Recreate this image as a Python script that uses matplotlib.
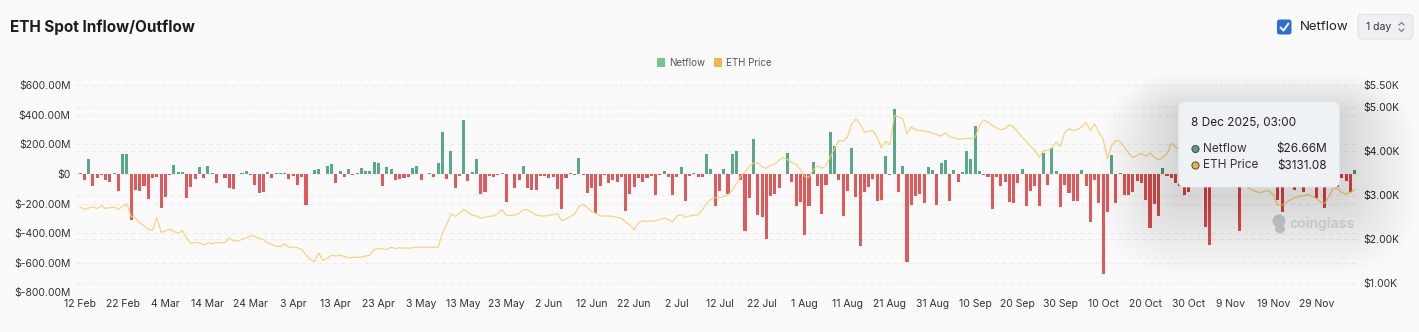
import numpy as np
import pandas as pd
import matplotlib.pyplot as plt
from matplotlib.patches import FancyBboxPatch, Circle, Rectangle, Ellipse
from matplotlib.transforms import Affine2D, blended_transform_factory

plt.rcParams['font.family'] = ['Inter', 'DejaVu Sans']

# daily netflow (million USD) and ETH price (thousand USD), starting 12 Feb 2025
start_date = '2025-02-12'
netflow = [
    10, -40, 103, -79, -25, -5, -43, -56, 5, -112,
    133, 135, -310, -110, -117, -81, -171, -29, -18, -227,
    -153, -9, 58, 13, 13, -160, -88, -36, 45, -25,
    54, 5, -63, -3, -29, -97, -99, -3, 7, 20,
    -9, -74, -130, -119, 11, -25, 4, 7, 7, -36,
    -13, -74, -22, -207, -2, 27, 36, 2, 54, 70,
    -63, 20, -18, 34, -9, 4, 41, 18, 22, 79,
    74, -83, 50, 31, -43, -34, -29, -22, 43, 52,
    -38, -2, 7, -22, 72, 281, -34, 157, -94, -13,
    364, -50, 11, 103, -137, -121, -13, -18, -9, 7,
    -191, -2, -94, -40, 52, -94, -106, -106, -13, -13,
    -27, -22, -101, -239, -29, 7, -9, 110, -9, -130,
    -97, -261, -79, -9, -63, -40, -52, -22, -252, -137,
    -86, -27, -54, -29, -13, -142, -9, 22, -22, -140,
    -22, 47, -182, -13, 7, -18, -18, 137, 36, -218,
    -112, 31, -135, 133, 157, -40, -385, -160, 234, -277,
    -288, -441, -146, -137, -97, 2, 142, -56, -218, -191,
    -410, -218, 81, -81, -270, -76, 286, 191, -38, -284,
    -117, 175, -157, -486, -121, -88, -36, -180, -173, 124,
    -9, 436, -119, 52, -592, -209, -150, -135, -193, 45,
    27, -211, 74, 92, -180, 27, -52, 11, 153, 99,
    324, 18, -4, -18, -239, -18, -81, -52, -189, -193,
    -63, 31, -214, -112, -81, -218, 142, -76, 173, 20,
    -220, -76, -126, -184, -182, 25, -81, -322, -40, -193,
    -677, -254, 128, -198, 4, -144, -144, -121, -50, -63,
    -175, -362, -205, -281, 43, -13, -29, -63, -79, -142,
    -119, -45, -70, -30, -360, -479, -60, -35, -80, 15,
    -50, -65, -385, -40, -75, 20, -55, -30, -70, -45,
    -60, -175, -259, -40, -65, -108, -90, -119, -50, -35,
    -164, -60, -232, -20, -40, -85, -25, -45, -119, 26.66,
]
eth_price = [
    2.73, 2.68, 2.71, 2.74, 2.70, 2.76, 2.70, 2.72, 2.73, 2.68,
    2.76, 2.80, 2.52, 2.48, 2.38, 2.31, 2.23, 2.20, 2.50, 2.16,
    2.19, 2.23, 2.18, 2.14, 2.20, 2.03, 1.90, 1.93, 1.92, 1.87,
    1.92, 1.90, 1.93, 1.92, 1.93, 2.03, 1.97, 1.96, 2.00, 2.03,
    2.08, 2.07, 2.03, 1.99, 1.92, 1.88, 1.84, 1.84, 1.90, 1.82,
    1.82, 1.81, 1.77, 1.64, 1.55, 1.49, 1.69, 1.52, 1.57, 1.64,
    1.62, 1.64, 1.61, 1.58, 1.59, 1.59, 1.60, 1.62, 1.64, 1.77,
    1.79, 1.78, 1.77, 1.82, 1.79, 1.81, 1.80, 1.80, 1.81, 1.82,
    1.82, 1.82, 1.82, 1.82, 1.82, 2.14, 2.33, 2.58, 2.52, 2.59,
    2.68, 2.61, 2.55, 2.53, 2.48, 2.50, 2.52, 2.53, 2.59, 2.67,
    2.55, 2.54, 2.55, 2.59, 2.67, 2.67, 2.61, 2.55, 2.53, 2.53,
    2.55, 2.56, 2.58, 2.42, 2.46, 2.52, 2.57, 2.74, 2.80, 2.72,
    2.63, 2.59, 2.53, 2.53, 2.53, 2.52, 2.50, 2.48, 2.39, 2.32,
    2.22, 2.37, 2.42, 2.41, 2.41, 2.42, 2.45, 2.48, 2.45, 2.39,
    2.53, 2.56, 2.50, 2.53, 2.55, 2.56, 2.67, 2.82, 2.91, 2.95,
    2.95, 2.97, 3.01, 3.11, 3.27, 3.44, 3.53, 3.65, 3.74, 3.74,
    3.65, 3.61, 3.68, 3.71, 3.80, 3.85, 3.81, 3.74, 3.70, 3.58,
    3.43, 3.41, 3.58, 3.67, 3.61, 3.68, 3.87, 4.06, 4.25, 4.23,
    4.32, 4.61, 4.73, 4.62, 4.43, 4.45, 4.47, 4.32, 4.07, 4.23,
    4.14, 4.81, 4.78, 4.74, 4.40, 4.55, 4.49, 4.47, 4.46, 4.44,
    4.41, 4.38, 4.34, 4.42, 4.32, 4.31, 4.27, 4.28, 4.29, 4.29,
    4.32, 4.58, 4.71, 4.66, 4.58, 4.53, 4.49, 4.51, 4.60, 4.55,
    4.43, 4.32, 4.23, 4.11, 4.02, 3.86, 4.01, 4.02, 4.08, 4.21,
    4.11, 4.43, 4.51, 4.47, 4.49, 4.55, 4.66, 4.47, 4.62, 4.43,
    4.28, 3.84, 4.13, 4.25, 4.22, 4.10, 3.95, 3.86, 3.91, 3.95,
    3.89, 3.96, 3.86, 3.80, 3.86, 3.94, 4.18, 4.09, 4.03, 3.98,
    3.90, 3.85, 3.87, 3.88, 3.60, 3.35, 3.40, 3.30, 3.45, 3.55,
    3.60, 3.55, 3.40, 3.25, 3.18, 3.12, 3.08, 3.06, 3.10, 3.10,
    3.00, 2.78, 2.78, 2.84, 2.90, 2.95, 2.97, 2.99, 3.02, 2.98,
    2.93, 2.85, 2.82, 2.98, 3.16, 3.15, 3.06, 3.03, 3.06, 3.13,
]
left_ticks = [-800, -600, -400, -200, 0, 200, 400, 600]
right_ticks = [1.0, 2.0, 3.0, 4.0, 5.0, 5.5]
tip_date = '8 Dec 2025, 03:00'
tip_netflow = '$26.66M'
tip_price = '$3131.08'

GREEN = '#5aa88a'
RED = '#e05a5b'
LINE = '#f7ce6c'
TXT = '#333333'

W, H = 1419, 332
fig = plt.figure(figsize=(W / 100, H / 100), dpi=100)
fig.patch.set_facecolor('#fafafa')
# pixel coordinates, origin at top-left
px = Affine2D().scale(1 / 100, -1 / 100).translate(0, H / 100) + fig.dpi_scale_trans

top, bot, lft, rgt = 85.2, 292.4, 76, 1358
ax = fig.add_axes([lft / W, 1 - bot / H, (rgt - lft) / W, (bot - top) / H])
ax.set_facecolor('none')
ax2 = ax.twinx()

dates = pd.date_range(start_date, periods=len(netflow), freq='D')
x = np.arange(len(netflow))
nf = np.array(netflow)
ax.bar(x, nf, width=0.72, color=np.where(nf >= 0, GREEN, RED), zorder=3)
ax.set_xlim(-0.95, len(x) - 0.2)
ax.set_ylim(-800, 600)
ax2.set_ylim(0.795, 5.5)

ax2.plot(x, eth_price, color=LINE, lw=0.85, alpha=0.9, zorder=3)

# dashed grid for both scales, kept under the bars
for v in left_ticks:
    ax.axhline(v, color='#ededed', lw=0.8, ls=(0, (4, 3)), zorder=0)
gtr = blended_transform_factory(ax.transAxes, ax2.transData)
for v in right_ticks:
    ax.plot([0, 1], [v, v], transform=gtr, color='#ededed', lw=0.8,
            ls=(0, (4, 3)), zorder=0)

ax.set_yticks(left_ticks)
ax.set_yticklabels(['$0' if v == 0 else f'${v:.2f}M' for v in left_ticks])
ax2.set_yticks(right_ticks)
ax2.set_yticklabels([f'${v:.2f}K' for v in right_ticks])
ax.set_xticks(x[::10])
ax.set_xticklabels([f'{d.day} {d:%b}' for d in dates[::10]])
for a in (ax, ax2):
    for s in a.spines.values():
        s.set_visible(False)
    a.tick_params(length=0, labelsize=7.5, labelcolor=TXT)
ax.tick_params(axis='y', pad=4)
ax2.tick_params(axis='y', pad=4)
ax.tick_params(axis='x', pad=5)

# title and header controls
fig.text(10, 27, 'ETH Spot Inflow/Outflow', transform=px, fontsize=11,
         fontweight='bold', color='#1c1c1c', va='center')
fig.patches.append(FancyBboxPatch((1277, 19.5), 14.5, 15, boxstyle='round,pad=0,rounding_size=2.5',
                                  transform=px, fc='#2d6fd1', ec='none'))
fig.lines.append(plt.Line2D([1280.5, 1283.5, 1288.5], [27.5, 30.5, 23.5], transform=px,
                            color='white', lw=1.4, solid_capstyle='round'))
fig.text(1300, 27, 'Netflow', transform=px, fontsize=9.5, color='#222222', va='center')
fig.patches.append(FancyBboxPatch((1358, 14.5), 55, 24.5, boxstyle='round,pad=0,rounding_size=4',
                                  transform=px, fc='#eef0f3', ec='#e0e3e8', lw=0.8))
fig.text(1366, 27, '1 day', transform=px, fontsize=7.5, color='#333333', va='center')
fig.lines.append(plt.Line2D([1399, 1401.5, 1404], [25, 22.5, 25], transform=px, color='#777777', lw=0.8))
fig.lines.append(plt.Line2D([1399, 1401.5, 1404], [29, 31.5, 29], transform=px, color='#777777', lw=0.8))

# legend
fig.patches.append(Rectangle((656.5, 58), 8, 8.5, transform=px, fc='#7cc48e', ec='none'))
fig.text(669, 62.5, 'Netflow', transform=px, fontsize=7, color='#555555', va='center')
fig.patches.append(Rectangle((713.5, 58), 8, 8.5, transform=px, fc='#ebb94f', ec='none'))
fig.text(725.5, 62.5, 'ETH Price', transform=px, fontsize=7, color='#555555', va='center')

# watermark
fig.patches.append(Circle((1279, 221), 6.5, transform=px, fc='#d2d2d2', ec='none'))
fig.patches.append(Ellipse((1280, 229), 10, 9, transform=px, fc='#d2d2d2', ec='none'))
fig.text(1290, 223.5, 'coinglass', transform=px, fontsize=10, fontweight='bold',
         color='#c8c8c8', va='center')

# tooltip with soft shadow
tx0, ty0, tw, th = 1178.5, 102, 161, 85
for k in range(36):
    g = 2 + k * 2.2
    fig.patches.append(FancyBboxPatch((tx0 - g, ty0 - g * 0.5 + 10), tw + 2 * g, th + g * 1.5,
                                      boxstyle='round,pad=0,rounding_size=%.1f' % (6 + g),
                                      transform=px, fc='#000000', ec='none', alpha=0.0045))
fig.patches.append(FancyBboxPatch((tx0, ty0), tw, th, boxstyle='round,pad=0,rounding_size=6',
                                  transform=px, fc='#eff2f5', ec='#e6e9ed', lw=0.5))
fig.text(1191, 122.5, tip_date, transform=px, fontsize=8.5, color='#222222', va='center')
fig.patches.append(Circle((1195.5, 149), 3.6, transform=px, fc='#4e9f80', ec='#3a3a3a', lw=0.6))
fig.text(1203, 149, 'Netflow', transform=px, fontsize=8.5, color='#333333', va='center')
fig.text(1327, 149, tip_netflow, transform=px, fontsize=8.5, color='#222222', va='center', ha='right')
fig.patches.append(Circle((1195.5, 165.5), 3.6, transform=px, fc='#e6b23f', ec='#3a3a3a', lw=0.6))
fig.text(1203, 165.5, 'ETH Price', transform=px, fontsize=8.5, color='#333333', va='center')
fig.text(1327, 165.5, tip_price, transform=px, fontsize=8.5, color='#222222', va='center', ha='right')

fig.savefig('out.png', dpi=100, facecolor=fig.get_facecolor())
